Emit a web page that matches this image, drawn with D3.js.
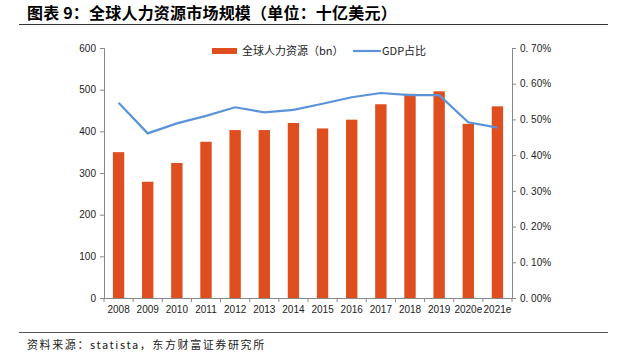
<!DOCTYPE html>
<html>
<head>
<meta charset="utf-8">
<script src="https://cdn.jsdelivr.net/npm/d3@7"></script>
<style>
  body { margin: 0; background: #fff; }
  svg { display: block; }
</style>
</head>
<body>
<div id="chart"></div>
<script>
var years = ["2008", "2009", "2010", "2011", "2012", "2013", "2014", "2015", "2016", "2017", "2018", "2019", "2020e", "2021e"];
var marketSize = [350, 279, 324, 375, 403, 403, 420, 407, 428, 465, 490, 496, 418, 460];
var gdpShare = [0.547, 0.461, 0.489, 0.510, 0.534, 0.520, 0.527, 0.544, 0.562, 0.574, 0.568, 0.568, 0.492, 0.477];
var leftTicks = [0, 100, 200, 300, 400, 500, 600];
var rightTicks = [0, 0.1, 0.2, 0.3, 0.4, 0.5, 0.6, 0.7];

var width = 632, height = 363;
var margin = {top: 48, right: 120, bottom: 65, left: 104};
var innerW = width - margin.left - margin.right;
var innerH = height - margin.top - margin.bottom;

var svg = d3.select("#chart").append("svg")
    .attr("width", width)
    .attr("height", height);

var cjk = "'Noto Sans CJK SC', sans-serif";
var latin = "'Liberation Sans', Arial, sans-serif";

// title + rules
svg.append("text")
    .attr("x", 27).attr("y", 19)
    .attr("font-family", cjk).attr("font-weight", "bold")
    .attr("font-size", 16).attr("fill", "#000")
    .attr("letter-spacing", 0.2)
    .text("图表 9：全球人力资源市场规模（单位：十亿美元）");

svg.append("line").attr("x1", 19).attr("x2", 608).attr("y1", 24.5).attr("y2", 24.5)
    .attr("stroke", "#333").attr("stroke-width", 1.2);
svg.append("line").attr("x1", 19).attr("x2", 608).attr("y1", 332.5).attr("y2", 332.5)
    .attr("stroke", "#555").attr("stroke-width", 1.2);

svg.append("text")
    .attr("x", 27).attr("y", 349)
    .attr("font-family", cjk).attr("font-size", 11).attr("fill", "#222")
    .attr("letter-spacing", 1.6)
    .text("资料来源：statista，东方财富证券研究所");

var g = svg.append("g").attr("transform", "translate(" + margin.left + "," + margin.top + ")");

var x = d3.scaleBand().domain(years).range([0, innerW]).paddingInner(0.61).paddingOuter(0.305);
var band = d3.scaleBand().domain(years).range([0, innerW]);
var yL = d3.scaleLinear().domain([0, 600]).range([innerH, 0]);
var yR = d3.scaleLinear().domain([0, 0.7]).range([innerH, 0]);

// bars
g.selectAll("rect.bar")
    .data(years)
    .enter().append("rect")
    .attr("class", "bar")
    .attr("x", function(d) { return x(d); })
    .attr("width", x.bandwidth())
    .attr("y", function(d, i) { return yL(marketSize[i]); })
    .attr("height", function(d, i) { return innerH - yL(marketSize[i]); })
    .attr("fill", "#DE4E1F");

// line
var line = d3.line()
    .x(function(d, i) { return band(years[i]) + band.bandwidth() / 2; })
    .y(function(d) { return yR(d); });

g.append("path")
    .datum(gdpShare)
    .attr("fill", "none")
    .attr("stroke", "#5B93DB")
    .attr("stroke-width", 2.2)
    .attr("d", line);

// left axis
var axL = g.append("g")
    .call(d3.axisLeft(yL).tickValues(leftTicks).tickSize(4).tickPadding(4));
axL.select(".domain").attr("stroke", "#888");
axL.selectAll(".tick line").attr("stroke", "#888");
axL.selectAll("text").attr("font-family", latin).attr("font-size", 10).attr("fill", "#222");

// right axis
var axR = g.append("g")
    .attr("transform", "translate(" + innerW + ",0)")
    .call(d3.axisRight(yR).tickValues(rightTicks).tickSize(4).tickPadding(4)
        .tickFormat(function(d) { return "0. " + d3.format("02d")(Math.round(d * 100)) + "%"; }));
axR.select(".domain").attr("stroke", "#888");
axR.selectAll(".tick line").attr("stroke", "#888");
axR.selectAll("text").attr("font-family", latin).attr("font-size", 10).attr("fill", "#222");

// bottom axis
var axB = g.append("g")
    .attr("transform", "translate(0," + innerH + ")")
    .call(d3.axisBottom(band).tickSize(0).tickPadding(8));
axB.select(".domain").attr("stroke", "#888");
axB.selectAll("text").attr("font-family", latin).attr("font-size", 10).attr("fill", "#222");

// separator ticks between categories
g.append("g").selectAll("line")
    .data(years.concat(["end"]))
    .enter().append("line")
    .attr("x1", function(d, i) { return i * band.step(); })
    .attr("x2", function(d, i) { return i * band.step(); })
    .attr("y1", innerH).attr("y2", innerH + 4)
    .attr("stroke", "#888");

// legend
var leg = svg.append("g");
leg.append("rect").attr("x", 212).attr("y", 48).attr("width", 25).attr("height", 6).attr("fill", "#DE4E1F");
leg.append("text").attr("x", 242).attr("y", 55)
    .attr("font-family", cjk).attr("font-size", 11).attr("fill", "#222")
    .text("全球人力资源（bn）");
leg.append("line").attr("x1", 353).attr("x2", 381).attr("y1", 51).attr("y2", 51)
    .attr("stroke", "#5B93DB").attr("stroke-width", 2.2);
leg.append("text").attr("x", 382).attr("y", 55)
    .attr("font-family", cjk).attr("font-size", 11).attr("fill", "#222")
    .text("GDP占比");
</script>
</body>
</html>
